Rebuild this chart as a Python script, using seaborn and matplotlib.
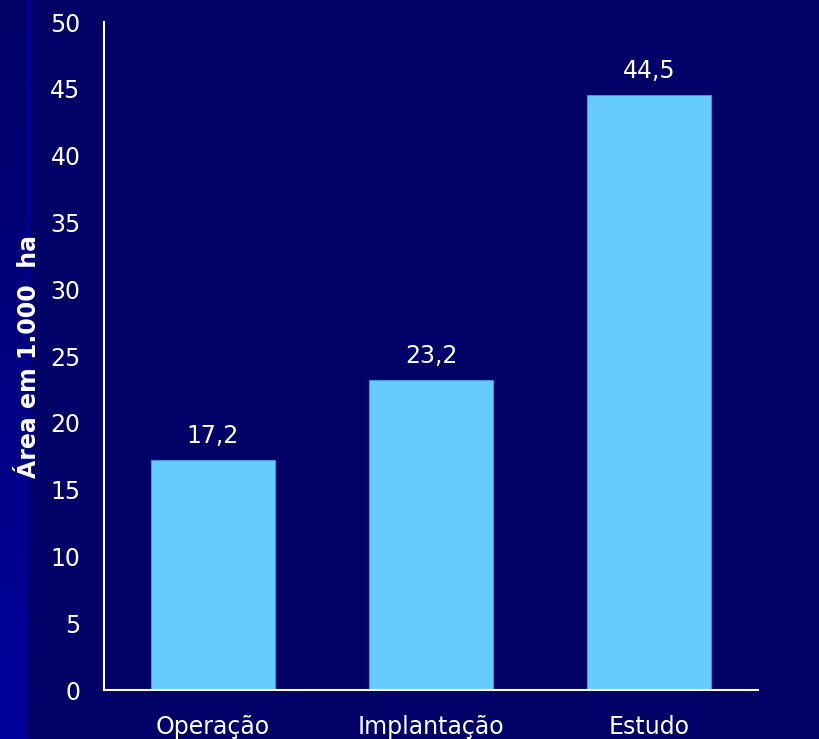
import numpy as np
import pandas as pd
import matplotlib
matplotlib.use('Agg')
import matplotlib.pyplot as plt
import seaborn as sns

categorias = ['Operação', 'Implantação', 'Estudo']
area = [17.2, 23.2, 44.5]
rotulos = ['17,2', '23,2', '44,5']

bg = '#000066'
barcolor = '#66CCFF'

df = pd.DataFrame({'cat': categorias, 'area': area})

sns.set_style('white')
plt.rcParams['font.family'] = ['DejaVu Sans']

fig = plt.figure(figsize=(8.2, 7.39), dpi=100, facecolor=bg)

# faixa lateral esquerda com degrade
h, w = 739, 32
strip = np.zeros((h, w, 3))
dark = np.array([0, 0, 0x66]) / 255
bright = np.array([0, 0, 0x9C]) / 255
t = np.linspace(0, 1, h)[:, None]
strip[:, :27, :] = (dark + (bright - dark) * t[:, :, None])
strip[:, 27:31, :] = (bright + (dark - bright) * (t[:, :, None] ** 1.5) * 0.9)
strip[:, 31:, :] = dark
fig.figimage(strip, xo=0, yo=0, origin='upper', zorder=-10)

ax = fig.add_axes([104 / 820, 1 - 690 / 739, 654 / 820, 668 / 739])
ax.set_facecolor('none')
ax.set_zorder(5)
sns.barplot(data=df, x='cat', y='area', ax=ax, color=barcolor, saturation=1,
            width=0.57, edgecolor='#3F93D6', linewidth=0.8)

ax.set_ylim(0, 50)
ax.set_xlim(-0.5, 2.5)
ax.set_yticks(range(0, 51, 5))
ax.tick_params(axis='both', colors='white', labelsize=17, length=0)
ax.tick_params(axis='y', pad=17)
ax.tick_params(axis='x', pad=18)
for lab in ax.get_yticklabels() + ax.get_xticklabels():
    lab.set_color('white')

for s in ['top', 'right']:
    ax.spines[s].set_visible(False)
for s in ['left', 'bottom']:
    ax.spines[s].set_color('white')
    ax.spines[s].set_linewidth(1.5)

for i, (v, r) in enumerate(zip(area, rotulos)):
    ax.annotate(r, (i, v), xytext=(0, 9), textcoords='offset points',
                ha='center', va='bottom', color='white', fontsize=17)

ax.set_xlabel('')
ax.set_ylabel('Área em 1.000  ha', color='white', fontsize=17, fontweight='bold')
ax.yaxis.set_label_coords(-63 / 654, 0.5)

fig.savefig('out.png', dpi=100, facecolor=bg)
